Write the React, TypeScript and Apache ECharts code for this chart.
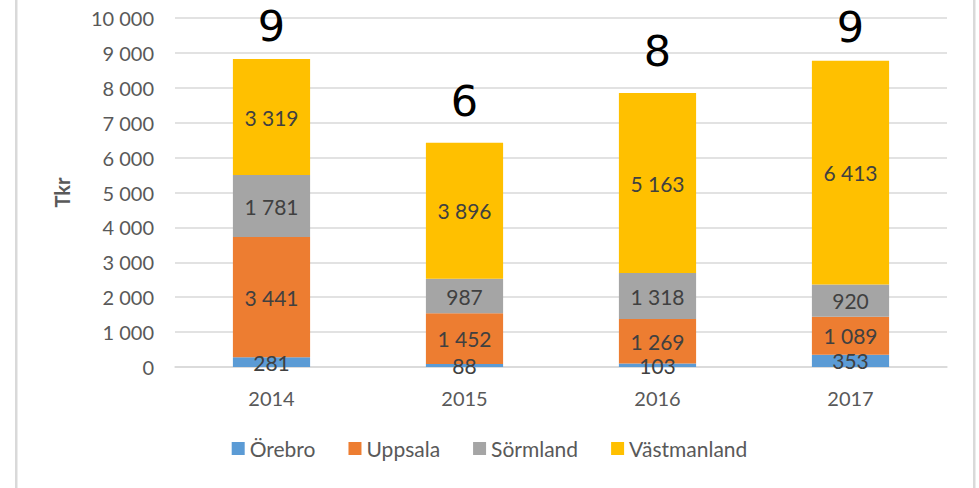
import React, { useEffect, useRef } from "react";
import * as echarts from "echarts";

const years = ["2014", "2015", "2016", "2017"];
const orebro = [281, 88, 103, 353];
const uppsala = [3441, 1452, 1269, 1089];
const sormland = [1781, 987, 1318, 920];
const vastmanland = [3319, 3896, 5163, 6413];
const counts = [9, 6, 8, 9];
const seriesNames = ["Örebro", "Uppsala", "Sörmland", "Västmanland"];
const colors = ["#5B9BD5", "#ED7D31", "#A5A5A5", "#FFC000"];
const countLabelGap = [16, 25, 25, 17];

const fmt = (v: number) => String(v).replace(/\B(?=(\d{3})+(?!\d))/g, " ");
const FONT = "Lato, 'Open Sans', sans-serif";

export default function App() {
  const ref = useRef<HTMLDivElement>(null);
  useEffect(() => {
    if (!ref.current) return;
    const chart = echarts.init(ref.current, undefined, { renderer: "svg" });
    const dataSets = [orebro, uppsala, sormland, vastmanland];
    const series: any[] = dataSets.map((d, i) => ({
      name: seriesNames[i],
      type: "bar",
      stack: "total",
      barWidth: "40%",
      itemStyle: { color: colors[i] },
      label: {
        show: true,
        position: "inside",
        color: "#404040",
        fontSize: 21,
        fontFamily: FONT,
        formatter: (p: any) => fmt(p.value),
      },
      data: d,
    }));
    series.push({
      name: "count",
      type: "bar",
      stack: "total",
      barWidth: "40%",
      itemStyle: { color: "transparent" },
      silent: true,
      label: {
        show: true,
        position: "top",
        color: "#000000",
        fontSize: 43,
        lineHeight: 34,
        fontFamily: "'DejaVu Sans', sans-serif",
        formatter: (p: any) => String(counts[p.dataIndex]),
      },
      data: counts.map((_, i) => ({ value: 0, label: { distance: countLabelGap[i] } })),
    });
    chart.setOption({
      animation: false,
      textStyle: { fontFamily: FONT },
      grid: { left: 175, right: 32, top: 18, bottom: 121 },
      legend: {
        data: seriesNames,
        bottom: 24,
        left: "center",
        itemWidth: 13,
        itemHeight: 13,
        itemGap: 33,
        icon: "rect",
        textStyle: { color: "#595959", fontSize: 21, fontFamily: FONT },
      },
      xAxis: {
        type: "category",
        data: years,
        axisLine: { lineStyle: { color: "#D9D9D9", width: 1.5 } },
        axisTick: { show: false },
        axisLabel: { color: "#595959", fontSize: 20, margin: 21, fontFamily: FONT },
      },
      yAxis: {
        type: "value",
        min: 0,
        max: 10000,
        interval: 1000,
        name: "Tkr",
        nameLocation: "middle",
        nameGap: 103,
        nameTextStyle: { color: "#595959", fontSize: 20, fontWeight: "bold", fontFamily: FONT },
        axisLine: { show: false },
        axisTick: { show: false },
        splitLine: { lineStyle: { color: "#D9D9D9", width: 1.5 } },
        axisLabel: {
          color: "#595959",
          fontSize: 20,
          margin: 21,
          fontFamily: FONT,
          formatter: (v: number) => fmt(v),
        },
      },
      graphic: [
        { type: "rect", shape: { x: 15, y: 0, width: 2.5, height: 488 }, style: { fill: "#D9D9D9" } },
        { type: "rect", shape: { x: 973, y: 0, width: 2.5, height: 488 }, style: { fill: "#D9D9D9" } },
      ],
      series,
    });
    return () => chart.dispose();
  }, []);
  return (
    <div
      ref={ref}
      style={{ position: "fixed", left: 0, top: 0, width: 979, height: 488, background: "#fff" }}
    />
  );
}
